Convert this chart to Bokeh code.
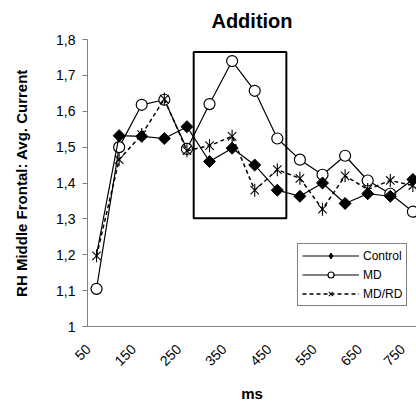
import math
from bokeh.plotting import figure
from bokeh.models import (FixedTicker, CustomJSTickFormatter, Legend, LegendItem, Range1d)
from bokeh.embed import file_html
from bokeh.resources import INLINE

# ---- data ----
ms = [50, 100, 150, 200, 250, 300, 350, 400, 450, 500, 550, 600, 650, 700, 750]
control = [1.20, 1.532, 1.53, 1.524, 1.557, 1.46, 1.497, 1.45, 1.38, 1.363, 1.40, 1.343, 1.37, 1.363, 1.41]
md = [1.105, 1.50, 1.618, 1.632, 1.495, 1.62, 1.74, 1.657, 1.524, 1.465, 1.423, 1.476, 1.407, 1.37, 1.32]
mdrd = [1.197, 1.465, 1.535, 1.634, 1.49, 1.504, 1.53, 1.38, 1.437, 1.413, 1.327, 1.42, 1.382, 1.407, 1.393]
x_tick_values = [50, 150, 250, 350, 450, 550, 650, 750]
x_tick_labels = ["50", "150", "250", "350", "450", "550", "650", "750"]
y_tick_values = [1.0, 1.1, 1.2, 1.3, 1.4, 1.5, 1.6, 1.7, 1.8]
box_ms = (265, 470)
box_val = (1.302, 1.765)

FONT = "Liberation Sans"
NB = "\u00a0"

p = figure(width=416, height=410, output_backend="svg", toolbar_location=None,
           x_range=Range1d(30, 758), y_range=Range1d(1.0, 1.8),
           min_border_left=87, min_border_right=0, min_border_top=37, min_border_bottom=84)
p.outline_line_color = None
p.grid.visible = False
p.background_fill_color = "white"
p.border_fill_color = "white"

p.title.text = "Addition"
p.title.align = "center"
p.title.text_font = FONT
p.title.text_font_size = "20px"
p.title.text_font_style = "bold"
p.title.text_color = "black"
p.title.standoff = 15

# axes
for ax in (p.xaxis[0], p.yaxis[0]):
    ax.axis_line_color = "#808080"
    ax.major_tick_line_color = "#808080"
    ax.minor_tick_line_color = None
    ax.major_label_text_font = FONT
    ax.major_label_text_font_size = "14px"
    ax.major_label_text_color = "black"
    ax.axis_label_text_font = FONT
    ax.axis_label_text_font_size = "15px"
    ax.axis_label_text_font_style = "bold"
    ax.axis_label_text_color = "black"

# x labels: rotated (right-aligned at the tick); a little trailing no-break space
# shifts the visible text down-left, as in the reference
p.xaxis.ticker = FixedTicker(ticks=x_tick_values)
p.xaxis.major_label_overrides = {v: l + NB * 3 for v, l in zip(x_tick_values, x_tick_labels)}
p.xaxis.major_label_orientation = math.pi / 4
p.xaxis.major_label_standoff = 12
p.xaxis.major_tick_out = 0
p.xaxis.major_tick_in = 0
p.xaxis.axis_label = "ms"
p.xaxis.axis_label_standoff = 7

p.yaxis.ticker = FixedTicker(ticks=y_tick_values)
p.yaxis.formatter = CustomJSTickFormatter(
    code="return Math.abs(tick - 1) < 1e-9 ? '1' : tick.toFixed(1).replace('.', ',');")
p.yaxis.major_tick_out = 5
p.yaxis.major_tick_in = 0
p.yaxis.major_label_standoff = 7
p.yaxis.axis_label = "RH Middle Frontal: Avg. Current"
p.yaxis.axis_label_standoff = 23

# highlight box
p.quad(left=[box_ms[0]], right=[box_ms[1]], bottom=[box_val[0]], top=[box_val[1]],
       fill_color=None, line_color="black", line_width=2)

# MD
md_line = p.line(ms, md, line_color="black", line_width=1.2)
md_pts = p.scatter(ms, md, marker="circle", size=11, fill_color="white",
                   line_color="black", line_width=1.2)
# Control
c_line = p.line(ms, control, line_color="black", line_width=1.2)
c_pts = p.scatter(ms[1:], control[1:], marker="square", angle=math.pi / 4, size=8.5,
                  fill_color="black", line_color="black")
# zero-size diamonds: invisible in the plot, give the legend its diamond symbol
c_leg = p.scatter(ms, control, marker="diamond", size=0, fill_color="black", line_color="black")
# MD/RD
r_line = p.line(ms, mdrd, line_color="black", line_width=1.5, line_dash="4 3")
r_pts = p.scatter(ms, mdrd, marker="x", size=12, line_color="black", line_width=1.1)
r_pts2 = p.scatter(ms, mdrd, marker="dash", angle=math.pi / 2, size=13,
                   line_color="black", line_width=1.1)

legend = Legend(items=[
    LegendItem(label="Control", renderers=[c_line, c_leg]),
    LegendItem(label="MD", renderers=[md_line, md_pts]),
    LegendItem(label="MD/RD", renderers=[r_line, r_pts]),
], location=(210, 20))
legend.label_text_font = FONT
legend.label_text_font_size = "12px"
legend.label_text_color = "black"
legend.glyph_width = 57
legend.glyph_height = 15
legend.label_height = 15
legend.label_standoff = 4
legend.spacing = 4
legend.padding = 4
legend.margin = 0
legend.border_line_color = "black"
legend.border_line_width = 1
legend.background_fill_color = "white"
legend.background_fill_alpha = 1
p.add_layout(legend, "center")

open("out.html", "w").write(file_html(p, INLINE))
